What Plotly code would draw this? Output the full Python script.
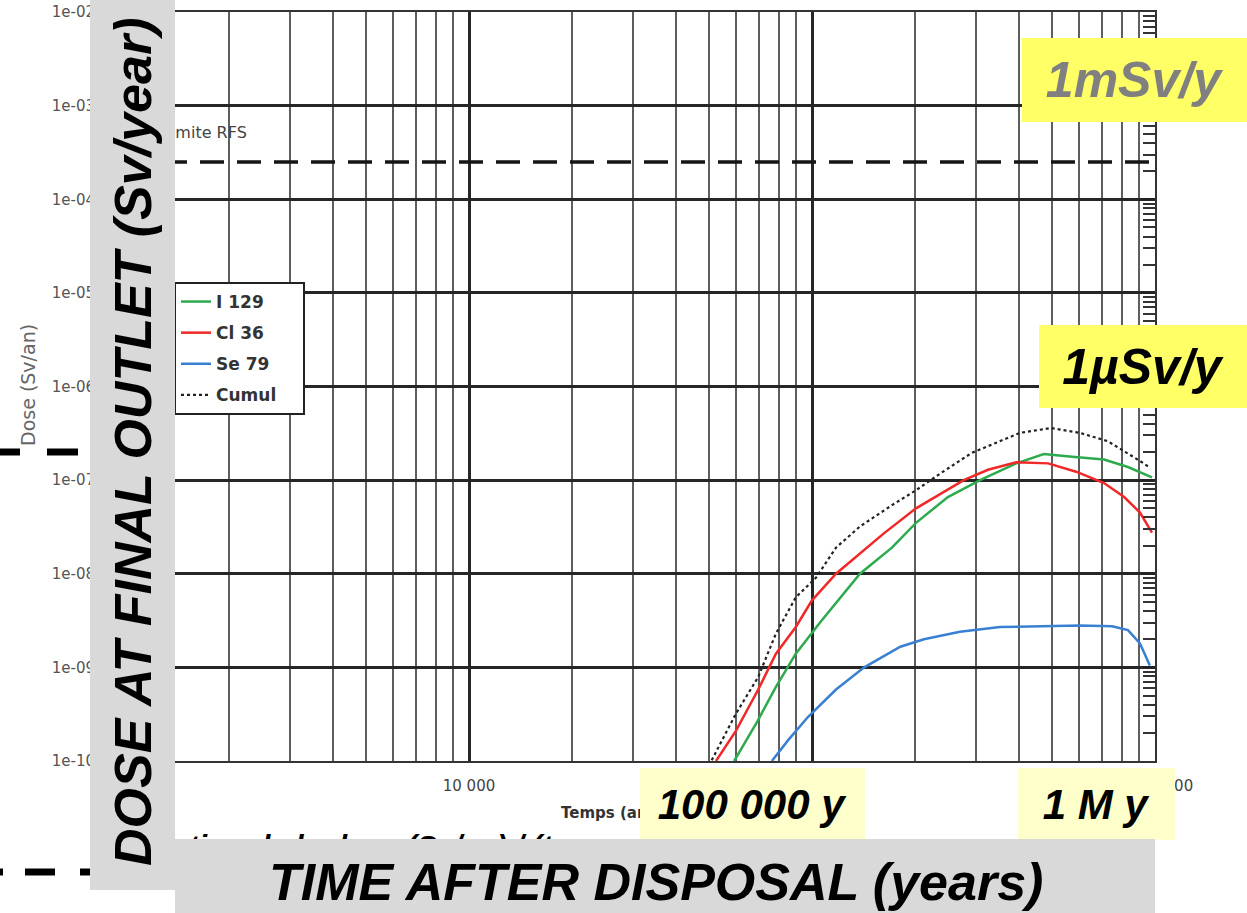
import plotly.graph_objects as go

# ---------------- data ----------------
i129_years = [59300, 68700, 78500, 89700, 105400, 138000, 171000, 201000, 249000,
              309000, 394000, 474000, 573000, 710000, 834000, 980000]
i129_dose = [1.0e-10, 2.5e-10, 6.2e-10, 1.4e-9, 3.0e-9, 1.0e-8, 1.9e-8, 3.5e-8, 6.6e-8,
             1.0e-7, 1.51e-7, 1.9e-7, 1.78e-7, 1.66e-7, 1.38e-7, 1.07e-7]

cl36_years = [52500, 60000, 69700, 78500, 89700, 100000, 117500, 138000, 162000, 201000,
              277000, 326000, 394000, 488000, 589000, 710000, 813000, 904000, 980000]
cl36_dose = [1.0e-10, 2.1e-10, 5.8e-10, 1.4e-9, 2.7e-9, 5.2e-9, 1.0e-8, 1.66e-8, 2.7e-8, 5.0e-8,
             1.0e-7, 1.29e-7, 1.55e-7, 1.51e-7, 1.23e-7, 9.3e-8, 6.6e-8, 4.5e-8, 2.75e-8]

se79_years = [76400, 85100, 97300, 117500, 142000, 181000, 212000, 270000, 353000,
              462000, 604000, 750000, 834000, 904000, 966000]
se79_dose = [1.0e-10, 1.66e-10, 2.95e-10, 5.8e-10, 1.0e-9, 1.66e-9, 2.0e-9, 2.4e-9, 2.7e-9,
             2.75e-9, 2.8e-9, 2.75e-9, 2.5e-9, 1.8e-9, 1.05e-9]

cumul_years = [51000, 60000, 69700, 78500, 89700, 102800, 117500, 138000, 171000, 201000,
               236000, 292000, 404000, 498000, 604000, 729000, 904000, 955000]
cumul_dose = [1.02e-10, 3.2e-10, 7.9e-10, 2.3e-9, 5.6e-9, 9.1e-9, 1.9e-8, 3.2e-8, 5.4e-8, 7.8e-8,
              1.17e-7, 1.95e-7, 3.2e-7, 3.6e-7, 3.2e-7, 2.6e-7, 1.6e-7, 1.4e-7]

series_names = ["I 129", "Cl 36", "Se 79", "Cumul"]
series_colors = ["#2eaa4e", "#f02828", "#3a80d2", "#222222"]

rfs_limit = 2.5e-4          # Sv/an, "Limite RFS"
time_range = [1000, 1000000]

x_tick_vals = [1000, 10000, 100000, 1000000]
x_tick_labels = ["1 000", "10 000", "100 000", "1 000 000"]
y_tick_vals = [1e-10, 1e-9, 1e-8, 1e-7, 1e-6, 1e-5, 1e-4, 1e-3, 1e-2]
y_tick_labels = ["1e-10", "1e-09", "1e-08", "1e-07", "1e-06", "1e-05", "1e-04", "1e-03", "1e-02"]

# ---------------- layout helpers ----------------
FIG_W, FIG_H = 1247, 913
L, R, T, B = 126, 1155, 12, 761


def px(x):
    return (x - L) / (R - L)


def py(y):
    return 1 - (y - T) / (B - T)


SCAN_FONT = "DejaVu Sans"
SLIDE_FONT = "Liberation Sans"
NB = "\u00a0"

fig = go.Figure()

xs = [i129_years, cl36_years, se79_years, cumul_years]
ys = [i129_dose, cl36_dose, se79_dose, cumul_dose]
dashes = ["solid", "solid", "solid", "dot"]
for name, xv, yv, col, d in zip(series_names, xs, ys, series_colors, dashes):
    fig.add_trace(go.Scatter(
        x=xv, y=yv, mode="lines", name="<b>" + name + "</b>" + NB * 4, legendgroup=name,
        line=dict(color=col, width=2.5 if d == "solid" else 2.2, dash=d),
    ))

fig.add_trace(go.Scatter(
    x=time_range, y=[rfs_limit, rfs_limit], mode="lines", showlegend=False,
    line=dict(color="#151515", width=3.5, dash="24px,13px"),
))
# invisible helper trace so the mirrored right-hand axis (minor ticks) is drawn
fig.add_trace(go.Scatter(
    x=time_range, y=[rfs_limit, rfs_limit], mode="lines", showlegend=False, yaxis="y2",
    opacity=0, hoverinfo="skip", line=dict(width=0),
))

fig.update_layout(
    width=FIG_W, height=FIG_H,
    margin=dict(l=L, r=FIG_W - R, t=T, b=FIG_H - B, autoexpand=False),
    paper_bgcolor="white", plot_bgcolor="white",
    showlegend=True,
    legend=dict(
        x=px(174), y=py(282), xanchor="left", yanchor="top",
        bgcolor="white", bordercolor="#222", borderwidth=2,
        font=dict(family=SCAN_FONT, size=17, color="#333"),
        tracegroupgap=6, itemwidth=30,
    ),
    xaxis=dict(
        type="log", range=[3, 6],
        tickmode="array", tickvals=x_tick_vals, ticktext=x_tick_labels,
        ticks="", showgrid=True, gridcolor="#262626", gridwidth=3,
        minor=dict(dtick="D1", showgrid=True, gridcolor="#5e5e5e", gridwidth=2, ticks=""),
        showline=True, linecolor="#333", linewidth=2, mirror=True, zeroline=False,
        tickfont=dict(family=SCAN_FONT, size=15, color="#444"),
        ticklabelstandoff=10,
    ),
    yaxis=dict(
        type="log", range=[-10, -2],
        tickmode="array", tickvals=y_tick_vals, ticktext=y_tick_labels,
        ticks="inside", ticklen=12, tickwidth=2, tickcolor="#222",
        showgrid=True, gridcolor="#262626", gridwidth=3,
        minor=dict(dtick="D1", ticks="inside", ticklen=10, tickwidth=2, tickcolor="#333",
                   showgrid=False),
        showline=True, linecolor="#333", linewidth=2, mirror=True, zeroline=False,
        tickfont=dict(family=SCAN_FONT, size=15, color="#555"),
        ticklabelstandoff=26,
    ),
    yaxis2=dict(
        type="log", range=[-10, -2], overlaying="y", side="right", anchor="x",
        tickmode="array", tickvals=y_tick_vals, showticklabels=False,
        ticks="inside", ticklen=12, tickwidth=2, tickcolor="#222",
        showgrid=False, zeroline=False, showline=False,
        minor=dict(dtick="D1", ticks="inside", ticklen=12, tickwidth=2, tickcolor="#333",
                   showgrid=False),
    ),
)

ann = []
# texts of the scanned chart
ann.append(dict(x=px(28), y=py(385), text="Dose (Sv/an)", textangle=-90,
                xanchor="center", yanchor="middle",
                font=dict(family=SCAN_FONT, size=19, color="#666")))
ann.append(dict(x=px(160), y=py(133), text="Limite RFS", xanchor="left", yanchor="middle",
                font=dict(family=SCAN_FONT, size=16, color="#444")))
ann.append(dict(x=px(559), y=py(813), text="<b>Temps (années)</b>", xanchor="left",
                yanchor="middle",
                font=dict(family=SCAN_FONT, size=15, color="#333")))
ann.append(dict(x=px(105), y=py(827), text="<b><i>Evolution de la dose (Sv/an) / (temps en années)</i></b>",
                xanchor="left", yanchor="top",
                font=dict(family=SLIDE_FONT, size=30, color="black")))


def box(x0, x1, y0, y1, text, color, size, fcolor, angle=0):
    w, h = x1 - x0, y1 - y0
    if angle:
        w, h = h, w
    return dict(x=px((x0 + x1) / 2), y=py((y0 + y1) / 2), xanchor="center", yanchor="middle",
                width=w, height=h, text=text, textangle=angle,
                bgcolor=color, borderpad=0, borderwidth=0, align="center", valign="middle",
                font=dict(family=SLIDE_FONT, size=size, color=fcolor))


# yellow slide labels
ann.append(box(1022, 1247, 38, 122, "<b><i>1mSv/y</i></b>", "#ffff66", 50, "#808080"))
ann.append(box(1039, 1247, 325, 408, "<b><i>1µSv/y</i></b>", "#ffff66", 50, "black"))
ann.append(box(640, 865, 768, 840, "<b><i>100 000 y</i></b>", "#ffffcc", 42, "black"))
ann.append(box(1018, 1175, 768, 840, "<b><i>1 M y</i></b>", "#ffffcc", 42, "black"))

# grey slide title bands
ann.append(box(90, 175, 0, 890, " ", "#d9d9d9", 10, "black"))
ann.append(box(175, 1155, 839, 920, " ", "#d9d9d9", 10, "black"))
ann.append(dict(x=px(133), y=py(442), text="<b><i>DOSE AT FINAL OUTLET (Sv/year)</i></b>",
                textangle=-90, xanchor="center", yanchor="middle",
                font=dict(family=SLIDE_FONT, size=52, color="black")))
ann.append(dict(x=px(656), y=py(882), text="<b><i>TIME AFTER DISPOSAL (years)</i></b>",
                xanchor="center", yanchor="middle",
                font=dict(family=SLIDE_FONT, size=52, color="black")))

for a in ann:
    a.update(xref="paper", yref="paper", showarrow=False)

fig.update_layout(annotations=ann)

# stray dashes of the slide on the left
shapes = []
for (xa, xb, yy) in [(0, 20, 452), (47, 78, 452), (0, 3, 872), (25, 55, 872), (80, 90, 872)]:
    shapes.append(dict(type="line", xref="paper", yref="paper", x0=px(xa), x1=px(xb),
                       y0=py(yy), y1=py(yy), line=dict(color="black", width=7)))
fig.update_layout(shapes=shapes)

fig.write_html("out.html")
